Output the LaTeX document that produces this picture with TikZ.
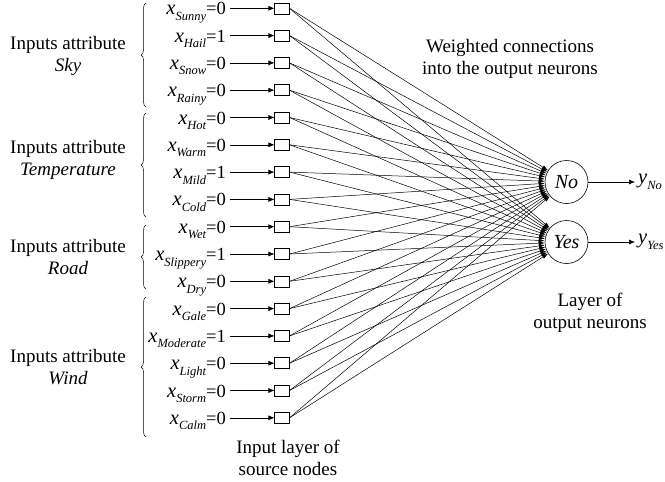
\documentclass[tikz,border=0pt]{standalone}
\usepackage{fontspec}
\setmainfont{Liberation Serif}
\usetikzlibrary{arrows.meta,decorations.pathreplacing}
\newcommand{\xsub}[2]{{\fontsize{20.5}{21}\selectfont\itshape #1}\raisebox{-5.5pt}{\fontsize{12.5}{13}\selectfont\itshape #2}}
\begin{document}
\begin{tikzpicture}[x=1pt,y=-1pt,
  src/.style={draw, minimum width=14.5pt, minimum height=11pt, inner sep=0pt, line width=0.6pt},
  neuron/.style={draw, circle, minimum size=43pt, inner sep=0pt, line width=0.6pt,
     font=\fontsize{20}{21}\selectfont\itshape},
  lbl/.style={font=\fontsize{19}{22}\selectfont, align=center, inner sep=0pt},
  xl/.style={anchor=base east, inner sep=0pt, font=\fontsize{18.5}{20}\selectfont},
  yl/.style={anchor=west, inner sep=0pt, font=\fontsize{19}{20}\selectfont},
  inarrow/.style={line width=0.6pt, -{Latex[length=6pt,width=5pt]}, shorten <=4pt},
  conn/.style={line width=0.5pt, -{Latex[length=6pt,width=4pt]}},
  outarrow/.style={line width=0.6pt, -{Latex[length=6pt,width=5pt]}, shorten >=3pt},
  brc/.style={decorate, decoration={brace, amplitude=5pt}, line width=0.5pt}
]
\useasboundingbox (0,0) rectangle (665,482);

\foreach \n/\v [count=\i from 0] in {Sunny/0,Hail/1,Snow/0,Rainy/0,Hot/0,Warm/0,Mild/1,Cold/0,Wet/0,Slippery/1,Dry/0,Gale/0,Moderate/1,Light/0,Storm/0,Calm/0} {
  \node[src] (s\i) at (282, {8.3+27.3*\i}) {};
  \node[xl] (x\i) at (226, {14.8+27.3*\i}) {\xsub{x}{\n}=\v};
  \draw[inarrow] (x\i.east |- s\i.west) -- (s\i.west);
}

\node[neuron] (no) at (566.5,182) {No};
\node[neuron] (yes) at (566.5,242) {Yes};

\foreach \i in {0,...,15} {
  \draw[conn] (s\i.east) -- (no);
  \draw[conn] (s\i.east) -- (yes);
}

\node[yl] (yno) at (638,182) {\xsub{y}{No}};
\node[yl] (yyes) at (638,242) {\xsub{y}{Yes}};
\draw[outarrow] (no) -- (yno.west);
\draw[outarrow] (yes) -- (yyes.west);

% braces
\coordinate (b1t) at (146,3);   \coordinate (b1b) at (146,107);
\coordinate (b2t) at (146,113); \coordinate (b2b) at (146,217);
\coordinate (b3t) at (146,225); \coordinate (b3b) at (146,289);
\coordinate (b4t) at (146,297); \coordinate (b4b) at (146,437);
\draw[brc] (b1b) -- (b1t);
\draw[brc] (b2b) -- (b2t);
\draw[brc] (b3b) -- (b3t);
\draw[brc] (b4b) -- (b4t);

\node[lbl] (a1) at (68,56) {Inputs attribute\\\itshape Sky};
\node[lbl] (a2) at (68,160) {Inputs attribute\\\itshape Temperature};
\node[lbl] (a3) at (68,257) {Inputs attribute\\\itshape Road};
\node[lbl] (a4) at (68,367) {Inputs attribute\\\itshape Wind};

\node[lbl] (wc) at (510,59) {Weighted connections\\into the output neurons};
\node[lbl] (lo) at (590,313) {Layer of\\output neurons};
\node[lbl] (il) at (288,458) {Input layer of\\source nodes};
\end{tikzpicture}
\end{document}
